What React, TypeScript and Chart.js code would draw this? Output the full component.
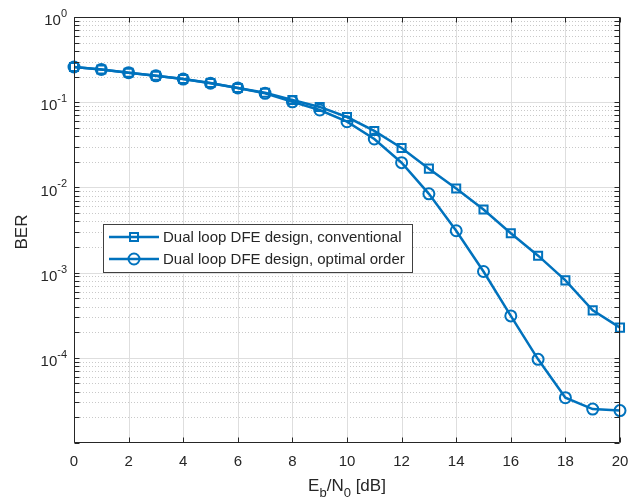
import React, { useEffect, useRef } from "react";
import { Chart, registerables } from "chart.js";

Chart.register(...registerables);

const snrDb = [0, 1, 2, 3, 4, 5, 6, 7, 8, 9, 10, 11, 12, 13, 14, 15, 16, 17, 18, 19, 20];
const berConventional = [0.259, 0.242, 0.222, 0.204, 0.187, 0.168, 0.147, 0.129, 0.106, 0.088, 0.067, 0.046, 0.029, 0.0166, 0.0097, 0.0055, 0.0029, 0.00158, 0.00081, 0.00036, 0.000226];
const berOptimal = [0.259, 0.242, 0.222, 0.204, 0.187, 0.167, 0.147, 0.127, 0.101, 0.081, 0.059, 0.037, 0.0195, 0.0084, 0.0031, 0.00103, 0.00031, 0.000096, 0.000034, 0.000025, 0.000024];
const xTicks = [0, 2, 4, 6, 8, 10, 12, 14, 16, 18, 20];
const yDecadeExps = [0, -1, -2, -3, -4];
const legendLabels = ["Dual loop DFE design, conventional", "Dual loop DFE design, optimal order"];

const BLUE = "#0072BD";
const AXIS = "#262626";
const FONT = "'Liberation Sans', Arial, Helvetica, sans-serif";

const matlabPlugin = {
  id: "matlabDecor",
  beforeDatasetsDraw(chart: any) {
    const { ctx, chartArea: a, scales } = chart;
    const xs = scales.x, ys = scales.y;
    ctx.save();
    ctx.strokeStyle = "#c9c9c9";
    ctx.lineWidth = 1;
    ctx.setLineDash([1, 2]);
    for (let e = -5; e < 0; e++) {
      for (let m = 2; m <= 9; m++) {
        const y = Math.round(ys.getPixelForValue(m * Math.pow(10, e))) + 0.5;
        ctx.beginPath();
        ctx.moveTo(a.left, y);
        ctx.lineTo(a.right, y);
        ctx.stroke();
      }
    }
    ctx.setLineDash([]);
    ctx.strokeStyle = "#dedede";
    for (const e of yDecadeExps) {
      const y = Math.round(ys.getPixelForValue(Math.pow(10, e))) + 0.5;
      ctx.beginPath();
      ctx.moveTo(a.left, y);
      ctx.lineTo(a.right, y);
      ctx.stroke();
    }
    for (const t of xTicks) {
      const x = Math.round(xs.getPixelForValue(t)) + 0.5;
      ctx.beginPath();
      ctx.moveTo(x, a.top);
      ctx.lineTo(x, a.bottom);
      ctx.stroke();
    }
    ctx.restore();
  },
  afterDraw(chart: any) {
    const { ctx, chartArea: a, scales } = chart;
    const xs = scales.x, ys = scales.y;
    ctx.save();
    ctx.strokeStyle = AXIS;
    ctx.lineWidth = 1;
    const L = Math.round(a.left) + 0.5, R = Math.round(a.right) - 0.5;
    const T = Math.round(a.top) + 0.5, B = Math.round(a.bottom) - 0.5;
    ctx.beginPath();
    ctx.rect(L, T, R - L, B - T);
    ctx.stroke();
    const tl = 5;
    ctx.beginPath();
    for (const t of xTicks) {
      const x = Math.round(xs.getPixelForValue(t)) + 0.5;
      ctx.moveTo(x, B); ctx.lineTo(x, B - tl);
      ctx.moveTo(x, T); ctx.lineTo(x, T + tl);
    }
    for (let e = -5; e <= 0; e++) {
      for (let m = 1; m <= 9; m++) {
        const v = m * Math.pow(10, e);
        if (v > 1) break;
        const y = Math.round(ys.getPixelForValue(v)) + 0.5;
        ctx.moveTo(L, y); ctx.lineTo(L + tl, y);
        ctx.moveTo(R, y); ctx.lineTo(R - tl, y);
      }
    }
    ctx.stroke();

    ctx.fillStyle = AXIS;
    ctx.font = `15px ${FONT}`;
    ctx.textAlign = "center";
    ctx.textBaseline = "middle";
    for (const t of xTicks) {
      ctx.fillText(String(t), xs.getPixelForValue(t), a.bottom + 19);
    }
    for (const e of yDecadeExps) {
      const y = ys.getPixelForValue(Math.pow(10, e));
      const expStr = e === 0 ? "0" : "-" + Math.abs(e);
      ctx.font = `11px ${FONT}`;
      const ew = ctx.measureText(expStr).width;
      ctx.font = `15px ${FONT}`;
      const bw = ctx.measureText("10").width;
      const right = a.left - 7;
      ctx.textAlign = "left";
      ctx.textBaseline = "middle";
      ctx.fillText("10", right - ew - bw, y + 4);
      ctx.font = `11px ${FONT}`;
      ctx.fillText(expStr, right - ew, y - 3);
    }
    {
      const parts: [string, number, number][] = [
        ["E", 17, 0], ["b", 13, 6], ["/N", 17, 0], ["0", 13, 6], [" [dB]", 17, 0],
      ];
      let total = 0;
      for (const [s, f] of parts) { ctx.font = `${f}px ${FONT}`; total += ctx.measureText(s).width; }
      let x = (a.left + a.right) / 2 - total / 2;
      const base = 491;
      ctx.textAlign = "left";
      ctx.textBaseline = "alphabetic";
      for (const [s, f, dy] of parts) {
        ctx.font = `${f}px ${FONT}`;
        ctx.fillText(s, x, base + dy);
        x += ctx.measureText(s).width;
      }
    }
    ctx.save();
    ctx.translate(22, (a.top + a.bottom) / 2 + 2);
    ctx.rotate(-Math.PI / 2);
    ctx.font = `17px ${FONT}`;
    ctx.textAlign = "center";
    ctx.textBaseline = "middle";
    ctx.fillText("BER", 0, 0);
    ctx.restore();

    const lx = 103.5, ly = 224.5, lw = 309, lh = 48;
    ctx.fillStyle = "#ffffff";
    ctx.fillRect(lx, ly, lw, lh);
    ctx.strokeStyle = "#404040";
    ctx.lineWidth = 1;
    ctx.strokeRect(lx, ly, lw, lh);
    const rows = [237, 259];
    const styles = ["rect", "circle"];
    ctx.font = `15px ${FONT}`;
    for (let i = 0; i < 2; i++) {
      const y = rows[i];
      ctx.strokeStyle = BLUE;
      ctx.lineWidth = 2.5;
      ctx.beginPath();
      ctx.moveTo(109, y); ctx.lineTo(159, y);
      ctx.stroke();
      ctx.lineWidth = 2;
      ctx.beginPath();
      if (styles[i] === "rect") {
        ctx.rect(134 - 4, y - 4, 8, 8);
      } else {
        ctx.arc(134, y, 5.5, 0, Math.PI * 2);
      }
      ctx.stroke();
      ctx.fillStyle = AXIS;
      ctx.textAlign = "left";
      ctx.textBaseline = "middle";
      ctx.fillText(legendLabels[i], 163, y + 1);
    }
    ctx.restore();
  },
};

export default function App() {
  const ref = useRef<HTMLCanvasElement | null>(null);
  useEffect(() => {
    document.body.style.margin = "0";
    const canvas = ref.current!;
    const chart = new Chart(canvas, {
      type: "line",
      data: {
        datasets: [
          {
            label: legendLabels[0],
            data: snrDb.map((x, i) => ({ x, y: berConventional[i] })),
            borderColor: BLUE,
            borderWidth: 2.5,
            pointStyle: "rect",
            pointRadius: 5.7,
            pointBorderWidth: 2,
            pointBorderColor: BLUE,
            pointBackgroundColor: "rgba(0,0,0,0)",
            tension: 0,
            clip: false,
          },
          {
            label: legendLabels[1],
            data: snrDb.map((x, i) => ({ x, y: berOptimal[i] })),
            borderColor: BLUE,
            borderWidth: 2.5,
            pointStyle: "circle",
            pointRadius: 5.5,
            pointBorderWidth: 2,
            pointBorderColor: BLUE,
            pointBackgroundColor: "rgba(0,0,0,0)",
            tension: 0,
            clip: false,
          },
        ],
      },
      options: {
        responsive: false,
        animation: false,
        layout: { padding: { left: 74, top: 17, right: 8, bottom: 58 } },
        plugins: { legend: { display: false }, tooltip: { enabled: false } },
        scales: {
          x: { type: "linear", min: 0, max: 20, display: false },
          y: { type: "logarithmic", min: 1e-5, max: 1, display: false },
        },
      },
      plugins: [matlabPlugin],
    } as any);
    return () => chart.destroy();
  }, []);
  return (
    <div style={{ width: 628, height: 501, background: "#fff" }}>
      <canvas ref={ref} width={628} height={501} style={{ display: "block" }} />
    </div>
  );
}
